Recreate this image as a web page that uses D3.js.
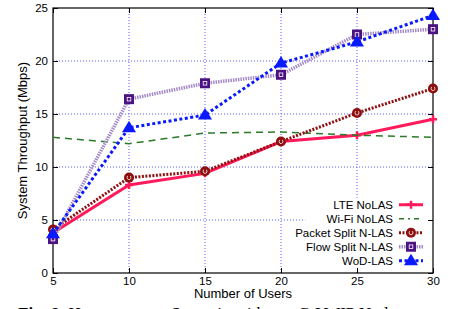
<!DOCTYPE html>
<html>
<head>
<meta charset="utf-8">
<script src="https://d3js.org/d3.v7.min.js"></script>
<style>
  body { margin: 0; background: #fff; }
  svg { display: block; font-family: "Liberation Sans", Arial, sans-serif; }
</style>
</head>
<body>
<svg id="svg" width="464" height="309"></svg>
<script>
// data
const users = [5, 10, 15, 20, 25, 30];
const lteNoLas = [3.8, 8.3, 9.4, 12.4, 13.0, 14.5];
const wifiNoLas = [12.8, 12.2, 13.2, 13.3, 13.0, 12.8];
const packetSplit = [4.1, 9.0, 9.6, 12.4, 15.1, 17.4];
const flowSplit = [3.2, 16.4, 17.9, 18.7, 22.5, 23.0];
const wodLas = [3.7, 13.7, 14.9, 19.8, 21.8, 24.3];
const yTicks = [0, 5, 10, 15, 20, 25];

const series = [
    { name: "LTE NoLAS", values: lteNoLas, color: "#ff1a5c", width: 3, dash: null, marker: "plus" },
    { name: "Wi-Fi NoLAS", values: wifiNoLas, color: "#2a7a2a", width: 1.5, dash: "7,5", legendDash: "5,4,2,4", marker: null },
    { name: "Packet Split N-LAS", values: packetSplit, color: "#8e0f0f", width: 3, dash: "2,1.5", marker: "circle" },
    { name: "Flow Split N-LAS", values: flowSplit, color: "#a58ac8", width: 3.5, dash: "1.5,1", marker: "square", markerColor: "#4b1282" },
    { name: "WoD-LAS", values: wodLas, color: "#0a1aff", width: 3, dash: "3,2.5", marker: "triangle" }
];

let svg = d3.select("#svg");
const margin = { top: 8, right: 31, bottom: 36, left: 53 };
const width = 464, height = 309;
let chartWidth = width - margin.left - margin.right;
let chartHeight = height - margin.top - margin.bottom;

let chart = svg.append("g")
    .attr("transform", "translate(" + margin.left + "," + margin.top + ")");

let xScale = d3.scaleLinear().domain([5, 30]).range([0, chartWidth]);
let yScale = d3.scaleLinear().domain([0, 25]).range([chartHeight, 0]);

// grid
chart.append("g").selectAll("line")
    .data(users.slice(1, -1))
    .enter().append("line")
    .attr("x1", d => xScale(d)).attr("x2", d => xScale(d))
    .attr("y1", 0).attr("y2", chartHeight)
    .attr("stroke", "#5b5bff").attr("stroke-width", 1).attr("stroke-dasharray", "1,2");
chart.append("g").selectAll("line")
    .data(yTicks.slice(1, -1))
    .enter().append("line")
    .attr("y1", d => yScale(d)).attr("y2", d => yScale(d))
    .attr("x1", 0).attr("x2", chartWidth)
    .attr("stroke", "#5b5bff").attr("stroke-width", 1).attr("stroke-dasharray", "1,2");

// legend background hides grid
const legX = xScale(21.6), legY = yScale(7.1);
chart.append("rect")
    .attr("x", legX).attr("y", legY)
    .attr("width", chartWidth - legX - 1).attr("height", chartHeight - legY - 1)
    .attr("fill", "#fff");

// axes
const tickFont = "11.5px";
let xAxis = chart.append("g")
    .attr("transform", "translate(0," + chartHeight + ")")
    .call(d3.axisBottom(xScale).tickValues(users).tickSize(-5).tickPadding(4));
let yAxis = chart.append("g")
    .call(d3.axisLeft(yScale).tickValues(yTicks).tickSize(-5).tickPadding(5));
chart.append("g")
    .attr("transform", "translate(" + chartWidth + ",0)")
    .call(d3.axisRight(yScale).tickValues(yTicks).tickSize(-5).tickFormat(""));
chart.append("g")
    .call(d3.axisTop(xScale).tickValues(users).tickSize(-5).tickFormat(""));
chart.selectAll(".domain").remove();
chart.selectAll(".tick line").attr("stroke", "#000");
[xAxis, yAxis].forEach(a => a.selectAll("text")
    .style("font-size", tickFont).attr("fill", "#000"));

chart.append("rect")
    .attr("width", chartWidth).attr("height", chartHeight)
    .attr("fill", "none").attr("stroke", "#000").attr("stroke-width", 1.2);

// lines
let line = d3.line().x((d, i) => xScale(users[i])).y(d => yScale(d));

function drawMarker(g, type, x, y, s) {
    if (type === "plus") {
        g.append("path")
            .attr("d", `M${x - 4},${y}H${x + 4}M${x},${y - 4}V${y + 4}`)
            .attr("stroke", s.color).attr("stroke-width", 2.5);
    } else if (type === "circle") {
        g.append("circle").attr("cx", x).attr("cy", y).attr("r", 5).attr("fill", s.color);
        g.append("path").attr("d", d3.arc()({ innerRadius: 1.6, outerRadius: 2.2, startAngle: 0.6, endAngle: 5.7 }))
            .attr("transform", `translate(${x},${y})`).attr("fill", "#fff");
    } else if (type === "square") {
        g.append("rect").attr("x", x - 5).attr("y", y - 5).attr("width", 10).attr("height", 10)
            .attr("fill", s.markerColor);
        g.append("rect").attr("x", x - 1.8).attr("y", y - 1.8).attr("width", 3.6).attr("height", 3.6)
            .attr("fill", "none").attr("stroke", "#fff").attr("stroke-width", 0.8);
    } else if (type === "triangle") {
        g.append("path").attr("d", `M${x},${y - 7}L${x + 7},${y + 4.5}L${x - 7},${y + 4.5}Z`)
            .attr("fill", s.color);
    }
}

series.forEach(s => {
    let g = chart.append("g");
    g.append("path")
        .attr("d", line(s.values))
        .attr("fill", "none")
        .attr("stroke", s.color)
        .attr("stroke-width", s.width)
        .attr("stroke-dasharray", s.dash);
    if (s.marker) {
        s.values.forEach((v, i) => drawMarker(g, s.marker, xScale(users[i]), yScale(v), s));
    }
});

// legend
const rowH = 14;
series.forEach((s, i) => {
    let y = legY + 7 + i * rowH;
    let g = chart.append("g");
    g.append("text")
        .attr("x", 340).attr("y", y + 4)
        .attr("text-anchor", "end")
        .style("font-size", "11.5px")
        .text(s.name);
    g.append("line")
        .attr("x1", 346).attr("x2", 370).attr("y1", y).attr("y2", y)
        .attr("stroke", s.color).attr("stroke-width", s.width)
        .attr("stroke-dasharray", s.legendDash || s.dash);
    if (s.marker) drawMarker(g, s.marker, 358, y, s);
});

// axis titles
svg.append("text")
    .attr("x", margin.left + chartWidth / 2).attr("y", 298)
    .attr("text-anchor", "middle")
    .style("font-size", "13px")
    .text("Number of Users");
svg.append("text")
    .attr("transform", "translate(27," + (margin.top + chartHeight / 2) + ") rotate(-90)")
    .attr("text-anchor", "middle")
    .style("font-size", "13px")
    .text("System Throughput (Mbps)");

// caption, cut off by the bottom edge as in the source picture
let cap = svg.append("text")
    .attr("x", 18).attr("y", 318.5)
    .style("font-family", "'Liberation Serif', serif")
    .style("font-size", "17px");
cap.append("tspan").style("font-weight", "bold").text("Fig. 6:");
cap.append("tspan").text(" Homogeneous Scenario with one C-LWIP Node");
</script>
</body>
</html>
